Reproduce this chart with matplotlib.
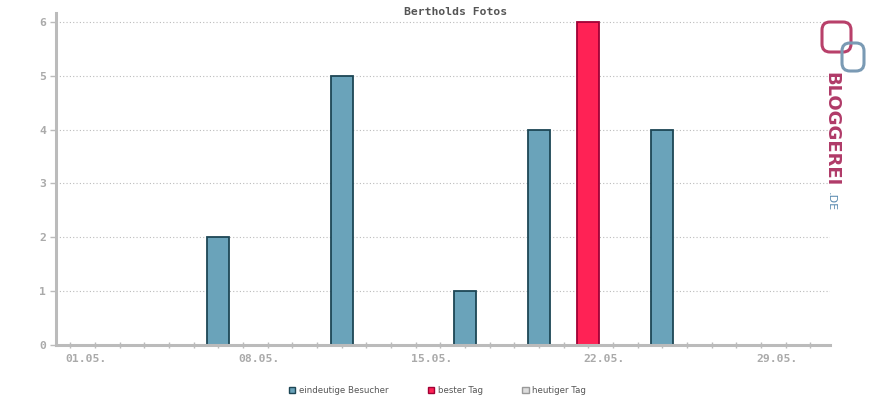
import matplotlib
matplotlib.use("Agg")
import matplotlib.pyplot as plt
from matplotlib.patches import Patch, FancyBboxPatch
from matplotlib.transforms import ScaledTranslation

# data
days = [7, 12, 17, 20, 22, 25]
visitors = [2, 5, 1, 4, 6, 4]
best_day = 22
tick_days = [1, 8, 15, 22, 29]
tick_labels = ["01.05.", "08.05.", "15.05.", "22.05.", "29.05."]
title = "Bertholds Fotos"
legend_labels = ["eindeutige Besucher", "bester Tag", "heutiger Tag"]

BLUE = "#6aa3ba"
BLUE_EDGE = "#1d4655"
RED = "#ff2255"
RED_EDGE = "#a00035"
GREY = "#bbbbbb"

fig = plt.figure(figsize=(8.7, 4.0), dpi=100)
ax = fig.add_axes([0.064, 0.138, 0.890, 0.830])

colors = [RED if d == best_day else BLUE for d in days]
edges = [RED_EDGE if d == best_day else BLUE_EDGE for d in days]
ax.bar(days, visitors, width=0.89, color=colors, edgecolor=edges, linewidth=1.3, zorder=2)

ax.set_xlim(0.41, 31.8)
ax.set_ylim(0, 6.17)
ax.set_yticks(range(0, 7))
ax.set_xticks(tick_days)
ax.set_xticklabels(tick_labels)
ax.set_xticks(range(1, 32), minor=True)

ax.grid(axis="y", color="#bbbbbb", linestyle=(0, (1, 2)), linewidth=0.8, zorder=0)
for s in ["top", "right"]:
    ax.spines[s].set_visible(False)
for s in ["left", "bottom"]:
    ax.spines[s].set_color(GREY)
    ax.spines[s].set_linewidth(2.2)
    ax.spines[s].set_zorder(3)

ax.tick_params(axis="x", which="both", direction="inout", length=5, width=1, color=GREY,
               labelcolor="#aaaaaa", pad=4)
ax.tick_params(axis="y", direction="out", length=4, width=1, color=GREY,
               labelcolor="#aaaaaa", pad=3)
for lab in ax.get_xticklabels() + ax.get_yticklabels():
    lab.set_fontfamily("DejaVu Sans Mono")
    lab.set_fontweight("bold")
    lab.set_fontsize(8.2)
shift = ScaledTranslation(-4.6 / 100, 0, fig.dpi_scale_trans)
for lab in ax.get_xticklabels():
    lab.set_horizontalalignment("left")
    lab.set_transform(lab.get_transform() + shift)

fig.text(0.524, 0.97, title, ha="center", va="center", color="#555555",
         family="DejaVu Sans Mono", weight="bold", fontsize=8.2)

handles = [Patch(facecolor=BLUE, edgecolor=BLUE_EDGE),
           Patch(facecolor=RED, edgecolor=RED_EDGE),
           Patch(facecolor="#dddddd", edgecolor="#999999")]
leg = fig.legend(handles, legend_labels, loc="center", bbox_to_anchor=(0.503, 0.023), ncol=3,
                 frameon=False, handlelength=0.75, handleheight=0.75, handletextpad=0.4,
                 columnspacing=4.6, prop={"size": 6.2})
for t in leg.get_texts():
    t.set_color("#555555")

# logo, drawn in inches from the top-left corner
px = fig.dpi_scale_trans
fig.patches.append(FancyBboxPatch((822 / 100, (400 - 52) / 100), 0.29, 0.30,
                                  boxstyle="round,pad=0,rounding_size=0.08",
                                  transform=px, fill=False,
                                  edgecolor="#b8406a", linewidth=2.2))
fig.patches.append(FancyBboxPatch((842 / 100, (400 - 71) / 100), 0.22, 0.28,
                                  boxstyle="round,pad=0,rounding_size=0.08",
                                  transform=px, fill=False,
                                  edgecolor="#7a9ab4", linewidth=2.2))
fig.text(831 / 870, 1 - 72 / 400, "BLOGGEREI", rotation=270, ha="center", va="top",
         color="#b03a68", fontsize=13, weight="bold", family="DejaVu Sans")
fig.text(831 / 870, 1 - 192 / 400, ".DE", rotation=270, ha="center", va="top",
         color="#5a8ab0", fontsize=8, family="DejaVu Sans")

fig.savefig("out.png", dpi=100)
